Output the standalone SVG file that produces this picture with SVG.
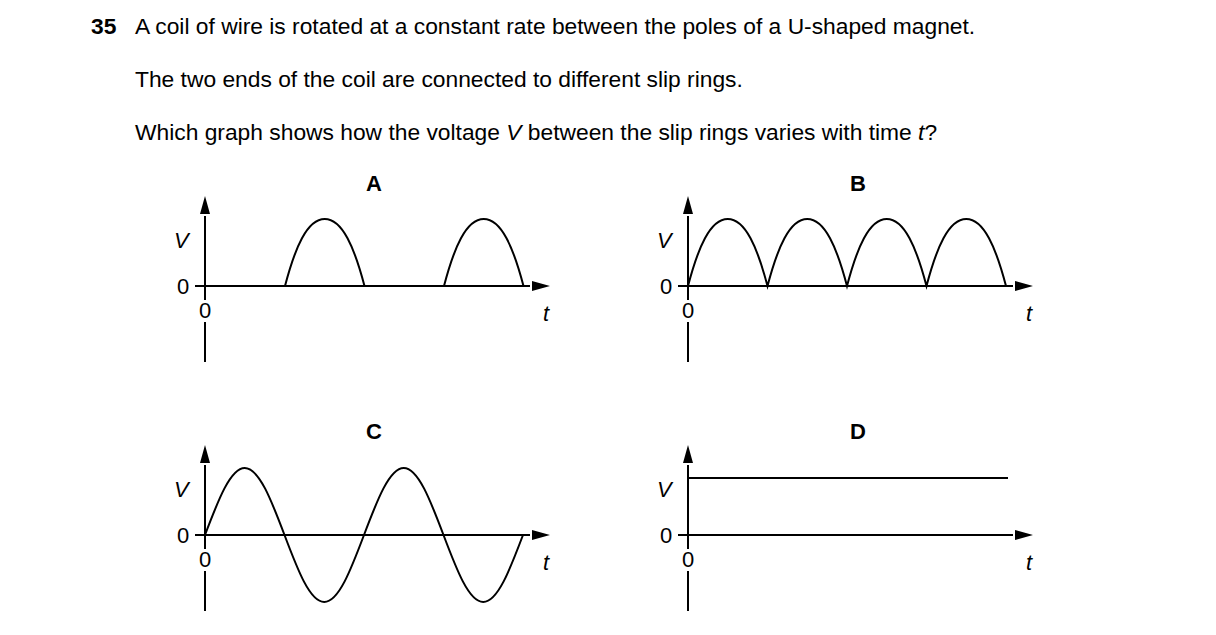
<svg xmlns="http://www.w3.org/2000/svg" width="1216" height="635" viewBox="0 0 1216 635">
<style>
text{font-family:"Liberation Sans",Arial,sans-serif;font-size:22.8px;fill:#000}
.b{font-weight:bold}
.i{font-style:italic}
.n{font-size:22px}
.ax,.c{stroke:#000;stroke-width:2;fill:none}
.h{fill:#000}
</style>
<defs>
<g id="axes">
<path class="ax" d="M0,20 V104 M0,126 V166 M-10,90 H325"/>
<path class="h" d="M0,0 L-5,18 L5,18 Z M345,90 L327,85 L327,95 Z"/>
<text class="n i" x="-31" y="52">V</text>
<text class="n" x="-28" y="98">0</text>
<text class="n" x="-6" y="122">0</text>
<text class="n i" x="338" y="125">t</text>
</g>
</defs>
<rect width="1216" height="635" fill="#fff"/>
<text class="b" x="91" y="34">35</text>
<text x="135" y="34">A coil of wire is rotated at a constant rate between the poles of a U-shaped magnet.</text>
<text x="135" y="87">The two ends of the coil are connected to different slip rings.</text>
<text x="135" y="140">Which graph shows how the voltage <tspan class="i">V</tspan> between the slip rings varies with time <tspan class="i">t</tspan>?</text>
<g id="graphA">
<text class="b n" x="366" y="191">A</text>
<use href="#axes" x="205" y="196"/>
<path class="c" d="M205,286 H285 c10,-38 22,-67 39.75,-67 c17.75,0 29.75,29 39.75,67 H444 c10,-38 22,-67 39.75,-67 c17.75,0 29.75,29 39.75,67" stroke-width="2.5"/>
</g>
<g id="graphB">
<text class="b n" x="850" y="191">B</text>
<use href="#axes" x="688" y="196"/>
<path class="c" d="M688,286 c10,-38 22,-67 39.75,-67 c17.75,0 29.75,29 39.75,67 c10,-38 22,-67 39.75,-67 c17.75,0 29.75,29 39.75,67 c10,-38 22,-67 39.75,-67 c17.75,0 29.75,29 39.75,67 c10,-38 22,-67 39.75,-67 c17.75,0 29.75,29 39.75,67"/>
</g>
<g id="graphC">
<text class="b n" x="366" y="439">C</text>
<use href="#axes" x="205" y="445"/>
<path class="c" d="M205,535 c12.96,-34.3 25.36,-67 39.75,-67 c14.39,0 26.79,32.7 39.75,67 c12.96,34.3 25.36,67 39.75,67 c14.39,0 26.79,-32.7 39.75,-67 c12.96,-34.3 25.36,-67 39.75,-67 c14.39,0 26.79,32.7 39.75,67 c12.96,34.3 25.36,67 39.75,67 c14.39,0 26.79,-32.7 39.75,-67"/>
</g>
<g id="graphD">
<text class="b n" x="850" y="439">D</text>
<use href="#axes" x="688" y="445"/>
<path class="c" d="M688,478 H1008"/>
</g>
</svg>
